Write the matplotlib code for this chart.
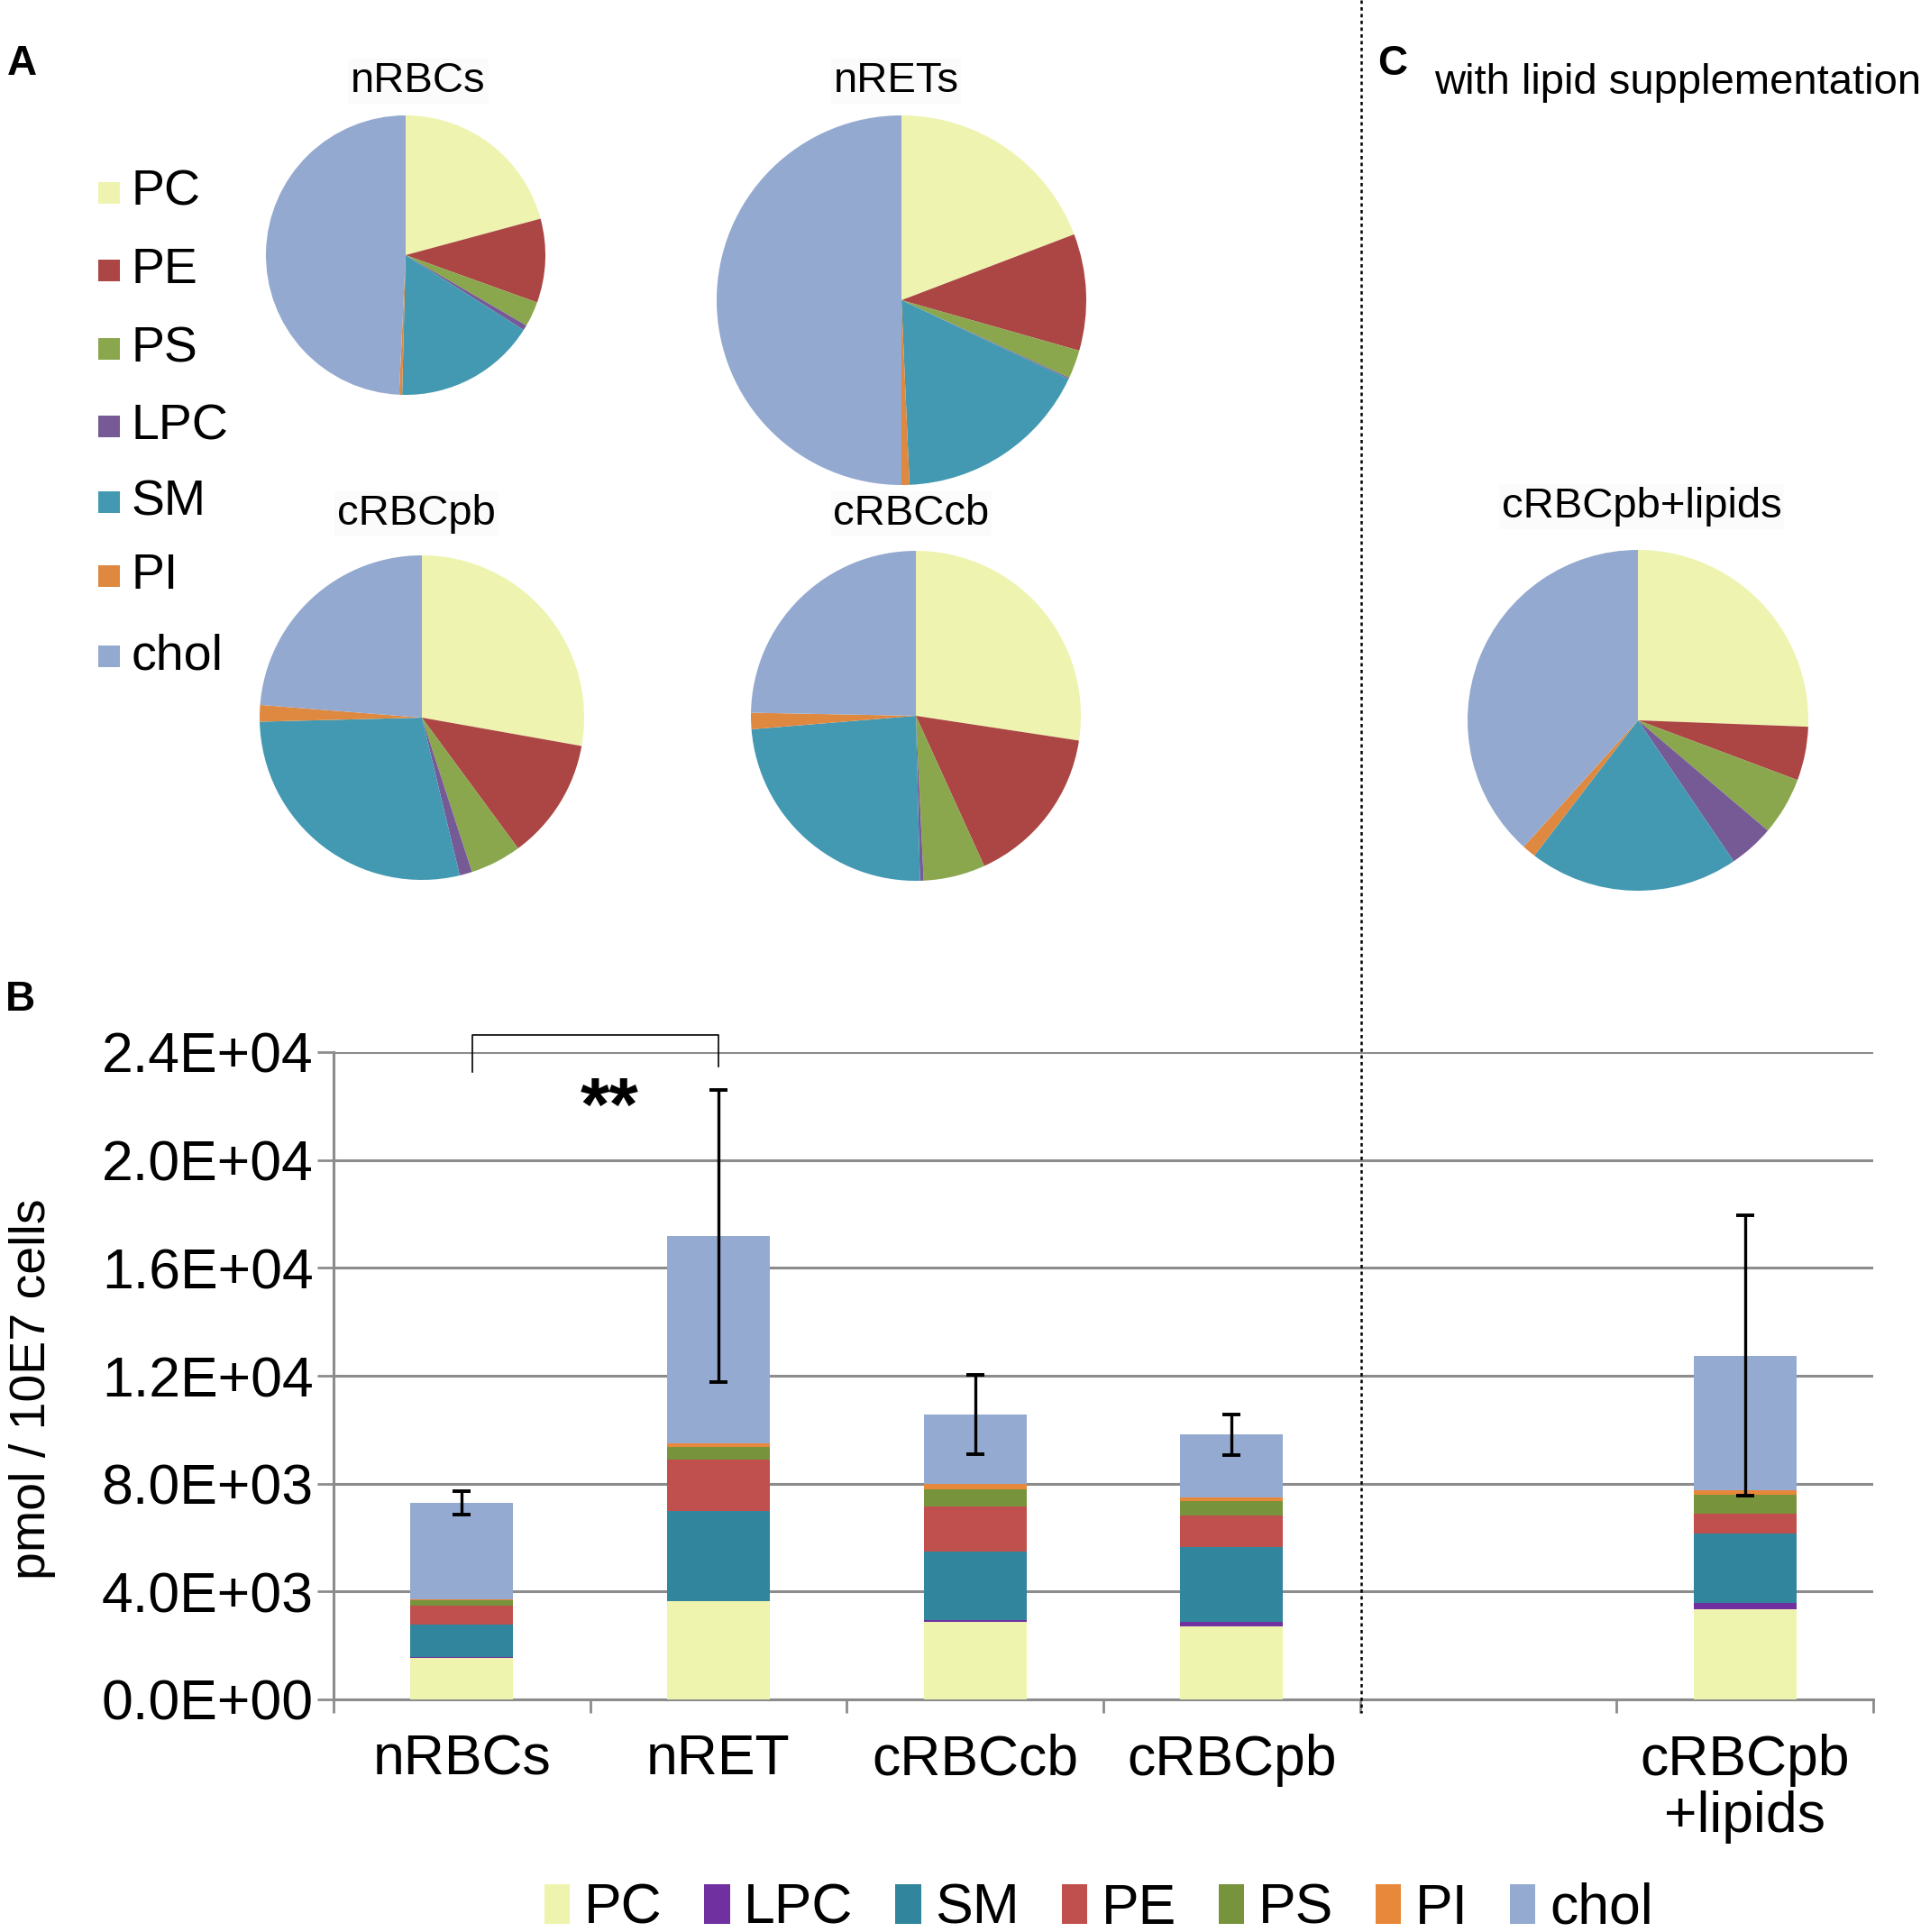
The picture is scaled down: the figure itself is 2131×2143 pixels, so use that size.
import matplotlib
matplotlib.use('Agg')

import matplotlib.pyplot as plt
from matplotlib.patches import Rectangle, Patch
from matplotlib.lines import Line2D
import numpy as np

plt.rcParams['font.family'] = ['Liberation Sans', 'DejaVu Sans']

W, H = 2131, 2143

# ---- data ----
lipids = ["PC", "PE", "PS", "LPC", "SM", "PI", "chol"]          # pie / legend A order
pie_colors = ["#EEF4AF", "#AB4644", "#8AA74E", "#765A96", "#4299B1", "#DF8840", "#93A9CF"]

# pie fractions (%), order PC, PE, PS, LPC, SM, PI, chol
pie_nrbcs = [20.8, 9.7, 2.9, 0.6, 16.4, 0.35, 49.25]
pie_nrets = [19.2, 10.2, 2.5, 0.1, 17.3, 0.7, 50.0]
pie_crbcpb = [27.8, 12.1, 5.1, 1.25, 28.35, 1.65, 23.75]
pie_crbccb = [27.4, 15.8, 6.05, 0.35, 24.1, 1.6, 24.7]
pie_crbcpb_lip = [25.6, 5.1, 5.5, 4.3, 19.9, 1.3, 38.3]

# bar chart (pmol / 10E7 cells), stacking order PC, LPC, SM, PE, PS, PI, chol
groups = ["nRBCs", "nRET", "cRBCcb", "cRBCpb", "cRBCpb\n+lipids"]
bar_PC = [1531, 3628, 2879, 2712, 3328]
bar_LPC = [30, 20, 66, 150, 233]
bar_SM = [1201, 3324, 2546, 2796, 2596]
bar_PE = [699, 1930, 1664, 1148, 715]
bar_PS = [216, 466, 633, 532, 716]
bar_PI = [23, 133, 199, 150, 166]
bar_chol = [3588, 7688, 2579, 2330, 4992]
bar_err = [440, 5420, 1470, 760, 5200]

stack_names = ["PC", "LPC", "SM", "PE", "PS", "PI", "chol"]
stack_vals = [bar_PC, bar_LPC, bar_SM, bar_PE, bar_PS, bar_PI, bar_chol]
bar_colors = ["#EEF4AD", "#7030A0", "#31859C", "#C0504D", "#77933C", "#E8883A", "#95AAD0"]

fig = plt.figure(figsize=(W / 100, H / 100), dpi=100)


def fx(x):
    return x / W


def fy(y):
    return 1 - y / H


# ---- panel A / C pies ----
pies = [
    ("nRBCs", pie_nrbcs, 450, 283, 155, 464, 90),
    ("nRETs", pie_nrets, 1000, 333, 205, 994, 90),
    ("cRBCpb", pie_crbcpb, 468, 796, 180, 462, 570),
    ("cRBCcb", pie_crbccb, 1016, 794, 183, 1011, 570),
    ("cRBCpb+lipids", pie_crbcpb_lip, 1817, 799, 189, 1821, 562),
]
for title, vals, cx, cy, r, tx, ty in pies:
    pa = fig.add_axes([fx(cx - r), fy(cy + r), 2 * r / W, 2 * r / H])
    pa.pie(vals, colors=pie_colors, startangle=90, counterclock=False,
           wedgeprops=dict(linewidth=0))
    pa.set_xlim(-1, 1)
    pa.set_ylim(-1, 1)
    pa.axis('off')
    fig.text(fx(tx), fy(ty), title, fontsize=34, ha='center', va='center',
             bbox=dict(facecolor='#fbfbfb', edgecolor='none', pad=2))

# legend A
leg_y = [214, 300, 387, 473, 557, 639, 728]
for name, col, y in zip(lipids, pie_colors, leg_y):
    fig.add_artist(Rectangle((fx(109), fy(y + 12)), 24 / W, 24 / H,
                             facecolor=col, edgecolor='none', transform=fig.transFigure))
    fig.text(fx(146), fy(y), name, fontsize=40, ha='left', va='center')

fig.text(fx(24), fy(71), "A", fontsize=33, weight='bold', ha='center', va='center')
fig.text(fx(22), fy(1109), "B", fontsize=33, weight='bold', ha='center', va='center')
fig.text(fx(1545), fy(71), "C", fontsize=33, weight='bold', ha='center', va='center')
fig.text(fx(1591), fy(92), "with lipid supplementation", fontsize=34, ha='left', va='center')

# ---- panel B bars ----
ax = fig.add_axes([fx(370), fy(1885), (2078 - 370) / W, (1885 - 1167) / H])
slots = [0, 1, 2, 3, 5]
bottom = np.zeros(len(groups))
for name, vals, col in zip(stack_names, stack_vals, bar_colors):
    ax.bar(slots, vals, width=0.4, bottom=bottom, color=col, label=name, zorder=3)
    bottom += np.array(vals)
ax.errorbar(slots, bottom, yerr=bar_err, fmt='none', ecolor='black',
            elinewidth=2.4, capsize=7, capthick=2.8, zorder=4)

ax.set_xlim(-0.5, 5.5)
ax.set_ylim(0, 24000)
ax.set_yticks(np.arange(0, 24001, 4000))
ax.set_yticklabels(['{:.1E}'.format(v) for v in np.arange(0, 24001, 4000)], fontsize=45)
ax.yaxis.grid(True, color='#8c8c8c', linewidth=2.2, zorder=0)
ax.set_axisbelow(True)

ax.set_xticks(np.arange(-0.5, 5.6, 1))
ax.set_xticklabels([])
ax.set_xticks(slots, minor=True)
ax.set_xticklabels(groups, minor=True, fontsize=45, linespacing=1.1)
ax.tick_params(axis='x', which='major', length=11, width=2, color='#8c8c8c')
ax.tick_params(axis='x', which='minor', length=0, pad=27)
ax.tick_params(axis='y', length=13, width=2, color='#8c8c8c', pad=3)
for s in ['top', 'right']:
    ax.spines[s].set_visible(False)
for s in ['left', 'bottom']:
    ax.spines[s].set_color('#8c8c8c')
    ax.spines[s].set_linewidth(2.2)

fig.text(fx(36), fy(1541), "pmol / 10E7 cells", fontsize=40, rotation=90,
         ha='center', va='center')

# significance bracket
ax.plot([0.04, 0.04, 1.0, 1.0], [23260, 24650, 24650, 23480], color='black',
        lw=1.2, clip_on=False, zorder=5)
ax.text(0.575, 21100, "**", fontsize=60, weight='bold', ha='center', va='baseline')

# dotted separator
fig.add_artist(Line2D([fx(1510), fx(1510)], [1, fy(1900)], color='black',
                      lw=1.8, linestyle=(0, (1.5, 1.5)), transform=fig.transFigure))

# legend B
handles = [Patch(facecolor=c, edgecolor='none') for c in bar_colors]
fig.legend(handles, stack_names, loc='center', bbox_to_anchor=(0.572, fy(2117)),
           ncol=7, fontsize=45, frameon=False, handlelength=0.45, handleheight=0.7,
           handletextpad=0.25, columnspacing=0.75, borderpad=0)

fig.savefig('out.png', dpi=100)
